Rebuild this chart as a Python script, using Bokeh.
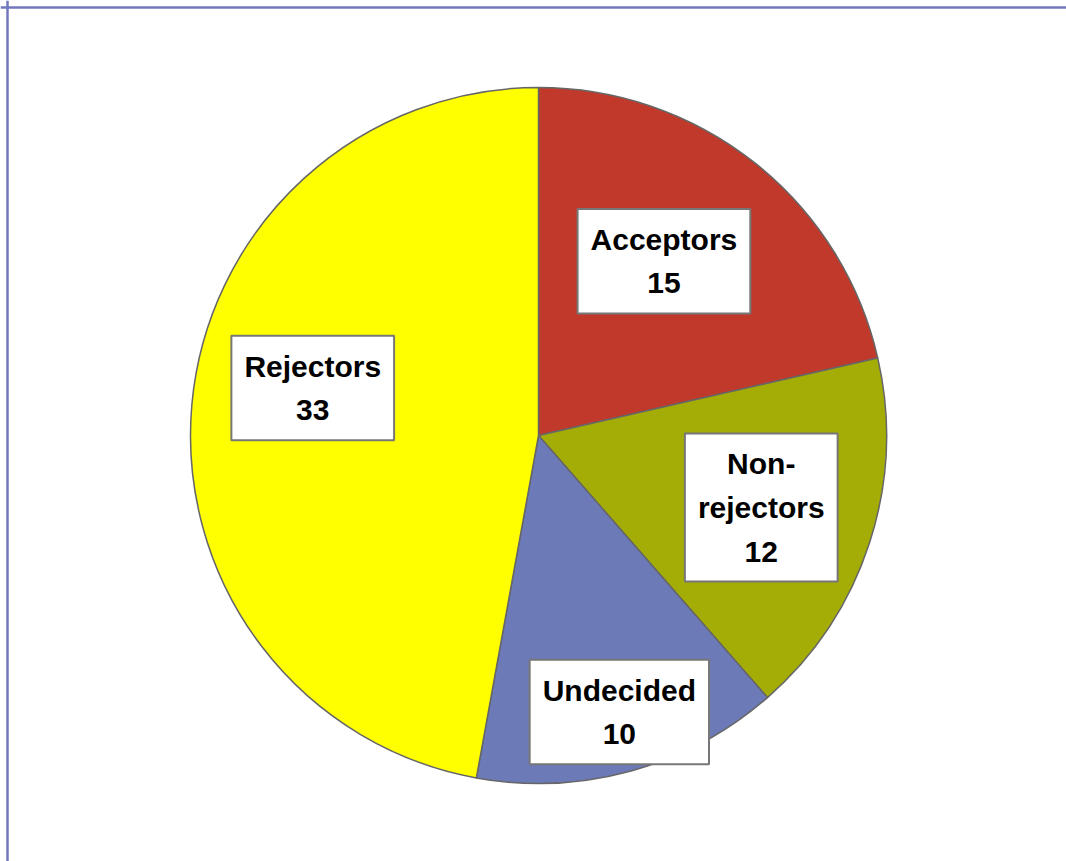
import math
from bokeh.plotting import figure
from bokeh.models import ColumnDataSource, Range1d, Span
from bokeh.core.properties import value
from bokeh.embed import file_html
from bokeh.resources import INLINE

# ---- data ----
categories = ["Acceptors", "Non-\nrejectors", "Undecided", "Rejectors"]
counts = [15, 12, 10, 33]
colors = ["#C0392B", "#A4AC06", "#6C7AB8", "#FFFF00"]

# ---- layout parameters (styling) ----
W, H = 1066, 861
cx, cy, R = 538, 426, 348
label_frac = [0.615, 0.67, 0.83, 0.66]
label_dx = [-8, 1, 4, 3]
label_dy = [-7, 0, -2, -27]

total = sum(counts)
starts, ends, lx, ly = [], [], [], []
cum = 0.0
for i, c in enumerate(counts):
    a0 = cum / total * 2 * math.pi
    cum += c
    a1 = cum / total * 2 * math.pi
    starts.append(math.pi / 2 - a0)
    ends.append(math.pi / 2 - a1)
    mid = (a0 + a1) / 2
    d = label_frac[i] * R
    lx.append(cx + d * math.sin(mid) + label_dx[i])
    ly.append(cy + d * math.cos(mid) - label_dy[i])

labels = [f"{cat}\n{n}" for cat, n in zip(categories, counts)]

src = ColumnDataSource(dict(start=starts, end=ends, color=colors,
                            x=[cx] * 4, y=[cy] * 4, lx=lx, ly=ly, label=labels))

p = figure(width=W, height=H, output_backend="svg", toolbar_location=None,
           x_range=Range1d(0, W), y_range=Range1d(0, H), min_border=0)
p.axis.visible = False
p.grid.visible = False
p.outline_line_color = None
p.background_fill_color = "white"
p.border_fill_color = "white"

# chart-area frame (left and top edges visible in the window)
p.add_layout(Span(location=7, dimension="height", line_color="#7078C0", line_width=2.5))
p.add_layout(Span(location=H - 7, dimension="width", line_color="#7078C0", line_width=2.5))

p.wedge(x="x", y="y", radius=R, start_angle="start", end_angle="end",
        direction="clock", fill_color="color", line_color="#666666",
        line_width=1.5, source=src)

p.text(x="lx", y="ly", text="label", source=src,
       text_font=value("Liberation Sans"), text_font_style="bold",
       text_font_size="30px", text_color="black",
       text_align="center", text_baseline="middle", text_line_height=1.32,
       background_fill_color="white",
       border_line_color="#777777", border_line_width=2,
       padding=dict(left=13, right=13, top=14, bottom=14))

open("out.html", "w").write(file_html(p, INLINE))
